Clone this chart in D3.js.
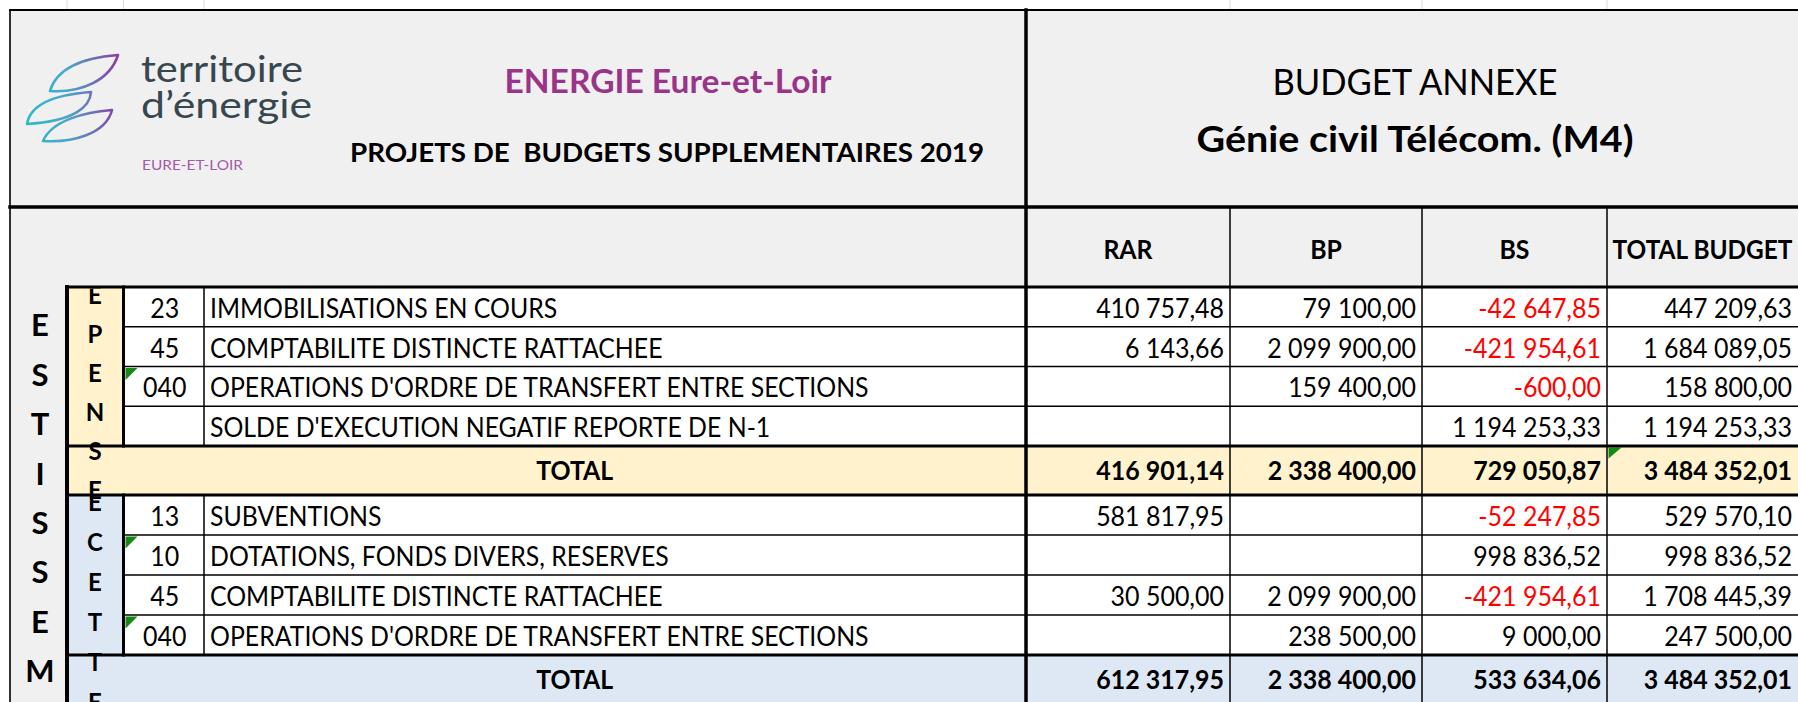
<!DOCTYPE html>
<html><head><meta charset="utf-8">
<script src="https://cdn.jsdelivr.net/npm/d3@7"></script>
<style>
html,body{margin:0;padding:0;background:#fff;}
svg{display:block;font-family:Lato,"Open Sans",sans-serif;}
text{white-space:pre;}
</style>
</head><body>
<svg id="chart" width="1798" height="702"></svg>
<script>
// ---------------- DATA ----------------
const columns = ["RAR", "BP", "BS", "TOTAL BUDGET"];

const depCodes  = ["23", "45", "040", ""];
const depLabels = ["IMMOBILISATIONS EN COURS", "COMPTABILITE DISTINCTE RATTACHEE",
                   "OPERATIONS D'ORDRE DE TRANSFERT ENTRE SECTIONS", "SOLDE D'EXECUTION NEGATIF REPORTE DE N-1"];
const depRAR    = [410757.48, 6143.66, null, null];
const depBP     = [79100.00, 2099900.00, 159400.00, null];
const depBS     = [-42647.85, -421954.61, -600.00, 1194253.33];
const depTotal  = [447209.63, 1684089.05, 158800.00, 1194253.33];
const depSums   = [416901.14, 2338400.00, 729050.87, 3484352.01];
const depFlags  = [false, false, true, false];

const recCodes  = ["13", "10", "45", "040"];
const recLabels = ["SUBVENTIONS", "DOTATIONS, FONDS DIVERS, RESERVES",
                   "COMPTABILITE DISTINCTE RATTACHEE", "OPERATIONS D'ORDRE DE TRANSFERT ENTRE SECTIONS"];
const recRAR    = [581817.95, null, 30500.00, null];
const recBP     = [null, null, 2099900.00, 238500.00];
const recBS     = [-52247.85, 998836.52, -421954.61, 9000.00];
const recTotal  = [529570.10, 998836.52, 1708445.39, 247500.00];
const recSums   = [612317.95, 2338400.00, 533634.06, 3484352.01];
const recFlags  = [false, true, false, true];

const totalLabel  = "TOTAL";
const sideTitle   = "INVESTISSEMENT";
const depTitle    = "DEPENSES";
const recTitle    = "RECETTES";
const orgTitle    = "ENERGIE Eure-et-Loir";
const docTitle    = "PROJETS DE  BUDGETS SUPPLEMENTAIRES 2019";
const budgetTitle = "BUDGET ANNEXE";
const budgetName  = "Génie civil Télécom. (M4)";
const logoLines   = ["territoire", "d\u2019énergie"];
const logoSub     = "EURE-ET-LOIR";

// ---------------- LAYOUT ----------------
const W = 1798, H = 702;
const L = 10, T = 10, R = 1798, B = 705;
const xSide = [10, 67], xGroup = [67, 123.5], xCode = [123.5, 204], xLabel = [204, 1026];
const valEdges = [1026, 1230, 1422, 1607, 1798];
const yTitle = [10, 207], yHead = [207, 287];
const depBlock = [287, 446], depTot = [446, 495];
const recBlock = [495, 655], recTot = [655, 705];

const GRAY = "#f0f0f0", YEL = "#fff2cc", BLUE = "#dde8f4", RED = "#ff0000";
const FS = 26;
const SQ_LABEL = 0.955, SQ_NUM = 0.96;

const fmt = d3.formatLocale({decimal: ",", thousands: "\u00a0", grouping: [3], currency: ["", ""], minus: "-"}).format(",.2f");

const colIndex = d3.scaleOrdinal().domain(columns).range(d3.range(columns.length));
const colLeft  = c => valEdges[colIndex(c)];
const colRight = c => valEdges[colIndex(c) + 1];

const depY = d3.scaleBand().domain(d3.range(depCodes.length)).range(depBlock);
const recY = d3.scaleBand().domain(d3.range(recCodes.length)).range(recBlock);

const svg = d3.select("#chart");
const defs = svg.append("defs");

// ---------------- BACKGROUNDS ----------------
const bg = svg.append("g");
bg.append("rect").attr("x", L).attr("y", T).attr("width", R - L).attr("height", yHead[1] - T).attr("fill", GRAY);
bg.append("rect").attr("x", xSide[0]).attr("y", yHead[1]).attr("width", xSide[1] - xSide[0]).attr("height", B - yHead[1]).attr("fill", GRAY);
bg.append("rect").attr("x", xGroup[0]).attr("y", depBlock[0]).attr("width", R - xGroup[0]).attr("height", depTot[1] - depBlock[0]).attr("fill", YEL);
bg.append("rect").attr("x", xGroup[0]).attr("y", recBlock[0]).attr("width", R - xGroup[0]).attr("height", recTot[1] - recBlock[0]).attr("fill", BLUE);
bg.append("rect").attr("x", xCode[0]).attr("y", depBlock[0]).attr("width", R - xCode[0]).attr("height", depBlock[1] - depBlock[0]).attr("fill", "#fff");
bg.append("rect").attr("x", xCode[0]).attr("y", recBlock[0]).attr("width", R - xCode[0]).attr("height", recBlock[1] - recBlock[0]).attr("fill", "#fff");

// faint sheet gridlines above the table
svg.append("g").selectAll("line").data([xSide[1], xGroup[1], xCode[1], ...valEdges.slice(1, 4)]).join("line")
  .attr("x1", d => d).attr("x2", d => d).attr("y1", 0).attr("y2", T).attr("stroke", "#dcdcdc").attr("stroke-width", 1);

// ---------------- TEXT HELPERS ----------------
function txt(g, s, x, y, o = {}) {
  const t = g.append("text").attr("x", x).attr("y", y).text(s)
    .attr("font-size", o.size || FS)
    .attr("font-weight", o.bold ? 700 : (o.weight || 400))
    .attr("fill", o.fill || "#000")
    .attr("text-anchor", o.anchor || "start");
  if (o.len) t.attr("textLength", o.len).attr("lengthAdjust", "spacingAndGlyphs");
  else if (o.squeeze) {
    const n = t.node().getComputedTextLength();
    t.attr("textLength", n * o.squeeze).attr("lengthAdjust", "spacingAndGlyphs");
  }
  return t;
}

// ---------------- TITLE AREA ----------------
const head = svg.append("g");
txt(head, orgTitle, 668, 93, {size: 32, bold: true, fill: "#993489", anchor: "middle", len: 327});
txt(head, docTitle, 667, 162, {size: 27, bold: true, anchor: "middle", len: 634});
txt(head, budgetTitle, 1415, 95, {size: 36, anchor: "middle", len: 285});
txt(head, budgetName, 1415, 152, {size: 37, bold: true, anchor: "middle", len: 437});

// logo
const grad = defs.append("linearGradient").attr("id", "lg").attr("gradientUnits", "userSpaceOnUse")
  .attr("x1", 25).attr("x2", 118).attr("y1", 0).attr("y2", 0);
grad.append("stop").attr("offset", "0%").attr("stop-color", "#27bccb");
grad.append("stop").attr("offset", "45%").attr("stop-color", "#4aa6c8");
grad.append("stop").attr("offset", "100%").attr("stop-color", "#8a3fa2");
const leaves = [
  "M118,55 C92,57 58,64 50,91 C82,93 110,80 118,55 Z",
  "M27,124 C30,106 50,95 91,92 C90,106 76,121 27,124 Z",
  "M112,110 C86,112 52,120 43,141 C72,143 106,134 112,110 Z"
];
head.append("g").selectAll("path").data(leaves).join("path")
  .attr("d", d => d).attr("fill", "none").attr("stroke", "url(#lg)").attr("stroke-width", 2.6).attr("stroke-linejoin", "round");
txt(head, logoLines[0], 141, 82, {size: 36, weight: 400, fill: "#37474f", len: 162});
txt(head, logoLines[1], 141, 118, {size: 36, weight: 400, fill: "#37474f", len: 171});
txt(head, logoSub, 142, 170, {size: 13, weight: 400, fill: "#a35aa8", len: 101});

// ---------------- COLUMN HEADERS ----------------
const ch = svg.append("g");
columns.forEach(c => {
  txt(ch, c, (colLeft(c) + colRight(c)) / 2, 259, {bold: true, anchor: "middle", len: c === "TOTAL BUDGET" ? 180 : null, squeeze: SQ_LABEL});
});

// ---------------- BODY ----------------
function block(codes, labels, series, sums, flags, yScale, yTot) {
  const g = svg.append("g");
  const bw = yScale.bandwidth();
  codes.forEach((code, i) => {
    const yc = yScale(i) + bw / 2 + 11;
    if (code) txt(g, code, (xCode[0] + xCode[1]) / 2 + 1, yc, {anchor: "middle", squeeze: SQ_NUM});
    txt(g, labels[i], xLabel[0] + 6, yc, {squeeze: SQ_LABEL});
    columns.forEach((c, j) => {
      const v = series[j][i];
      if (v == null) return;
      txt(g, fmt(v), colRight(c) - 6, yc, {anchor: "end", fill: (c === "BS" && v < 0) ? RED : "#000", squeeze: SQ_NUM});
    });
    if (flags[i]) {
      g.append("path").attr("d", `M${xCode[0] + 2},${yScale(i) + 1.5} l12,0 l-12,12 Z`).attr("fill", "#128a12");
    }
  });
  const yt = (yTot[0] + yTot[1]) / 2 + 9;
  txt(g, totalLabel, (xCode[0] + xLabel[1]) / 2, yt, {bold: true, anchor: "middle", squeeze: SQ_LABEL});
  columns.forEach((c, j) => {
    txt(g, fmt(sums[j]), colRight(c) - 6, yt, {bold: true, anchor: "end", squeeze: SQ_NUM});
  });
}
block(depCodes, depLabels, [depRAR, depBP, depBS, depTotal], depSums, depFlags, depY, depTot);
block(recCodes, recLabels, [recRAR, recBP, recBS, recTotal], recSums, recFlags, recY, recTot);

// green marker on depenses TOTAL BUDGET total cell
svg.append("path").attr("d", `M${colLeft("TOTAL BUDGET") + 1.5},${depTot[0] + 1.5} l13,0 l-13,11 Z`).attr("fill", "#128a12");

// ---------------- GRID LINES ----------------
const lines = svg.append("g").attr("stroke", "#000").attr("stroke-linecap", "square");
function ln(x1, y1, x2, y2, w) { lines.append("line").attr("x1", x1).attr("y1", y1).attr("x2", x2).attr("y2", y2).attr("stroke-width", w); }
ln(L, T, R, T, 2);
ln(L, T, L, B, 1.6);
ln(L, yTitle[1], R, yTitle[1], 3.5);
ln(valEdges[0], T, valEdges[0], B, 3.5);
ln(xSide[1], yHead[1], R, yHead[1], 3);
ln(xSide[1], yHead[1], xSide[1], B, 4);
[[depY, depBlock], [recY, recBlock]].forEach(([ys, blk]) => {
  ln(xCode[0], blk[0], xCode[0], blk[1], 3);
  ln(xCode[1], blk[0], xCode[1], blk[1], 1.5);
  ys.domain().slice(1).forEach(i => ln(xCode[0], ys(i), R, ys(i), 1.5));
});
ln(xGroup[0], depTot[0], R, depTot[0], 3);
ln(xGroup[0], depTot[1], R, depTot[1], 3);
ln(xGroup[0], recTot[0], R, recTot[0], 3);
valEdges.slice(1, 4).forEach(x => ln(x, yTitle[1], x, B, 1.5));

// ---------------- VERTICAL LETTERS (merged cells, clipped) ----------------
function vertical(word, cx, y0, step, size, clip) {
  const id = "clip" + word;
  defs.append("clipPath").attr("id", id).append("rect")
    .attr("x", clip[0]).attr("y", clip[1]).attr("width", clip[2] - clip[0]).attr("height", clip[3] - clip[1]);
  const g = svg.append("g").attr("clip-path", `url(#${id})`);
  const letters = word.split("").map((ch, i) => ({ch, yc: y0 + step * i}))
    .filter(d => d.yc + size * 0.38 > clip[1] && d.yc - size * 0.38 < clip[3]);
  g.selectAll("text").data(letters).join("text")
    .attr("x", cx).attr("y", d => d.yc + size * 0.36)
    .attr("text-anchor", "middle").attr("font-size", size).attr("font-weight", 700).attr("fill", "#000")
    .text(d => d.ch);
}
vertical(sideTitle, 40, 177, 49.4, 31, [xSide[0] + 1, yHead[1] + 1.5, xSide[1] - 2, H]);
vertical(depTitle, 95, 256, 39, 24, [xGroup[0] + 2, yHead[1] + 1.5, xGroup[1] - 1.5, depTot[1] + 5]);
vertical(recTitle, 95, 462, 40, 24, [xGroup[0] + 2, recBlock[0], xGroup[1] - 1.5, H]);
</script>
</body></html>
